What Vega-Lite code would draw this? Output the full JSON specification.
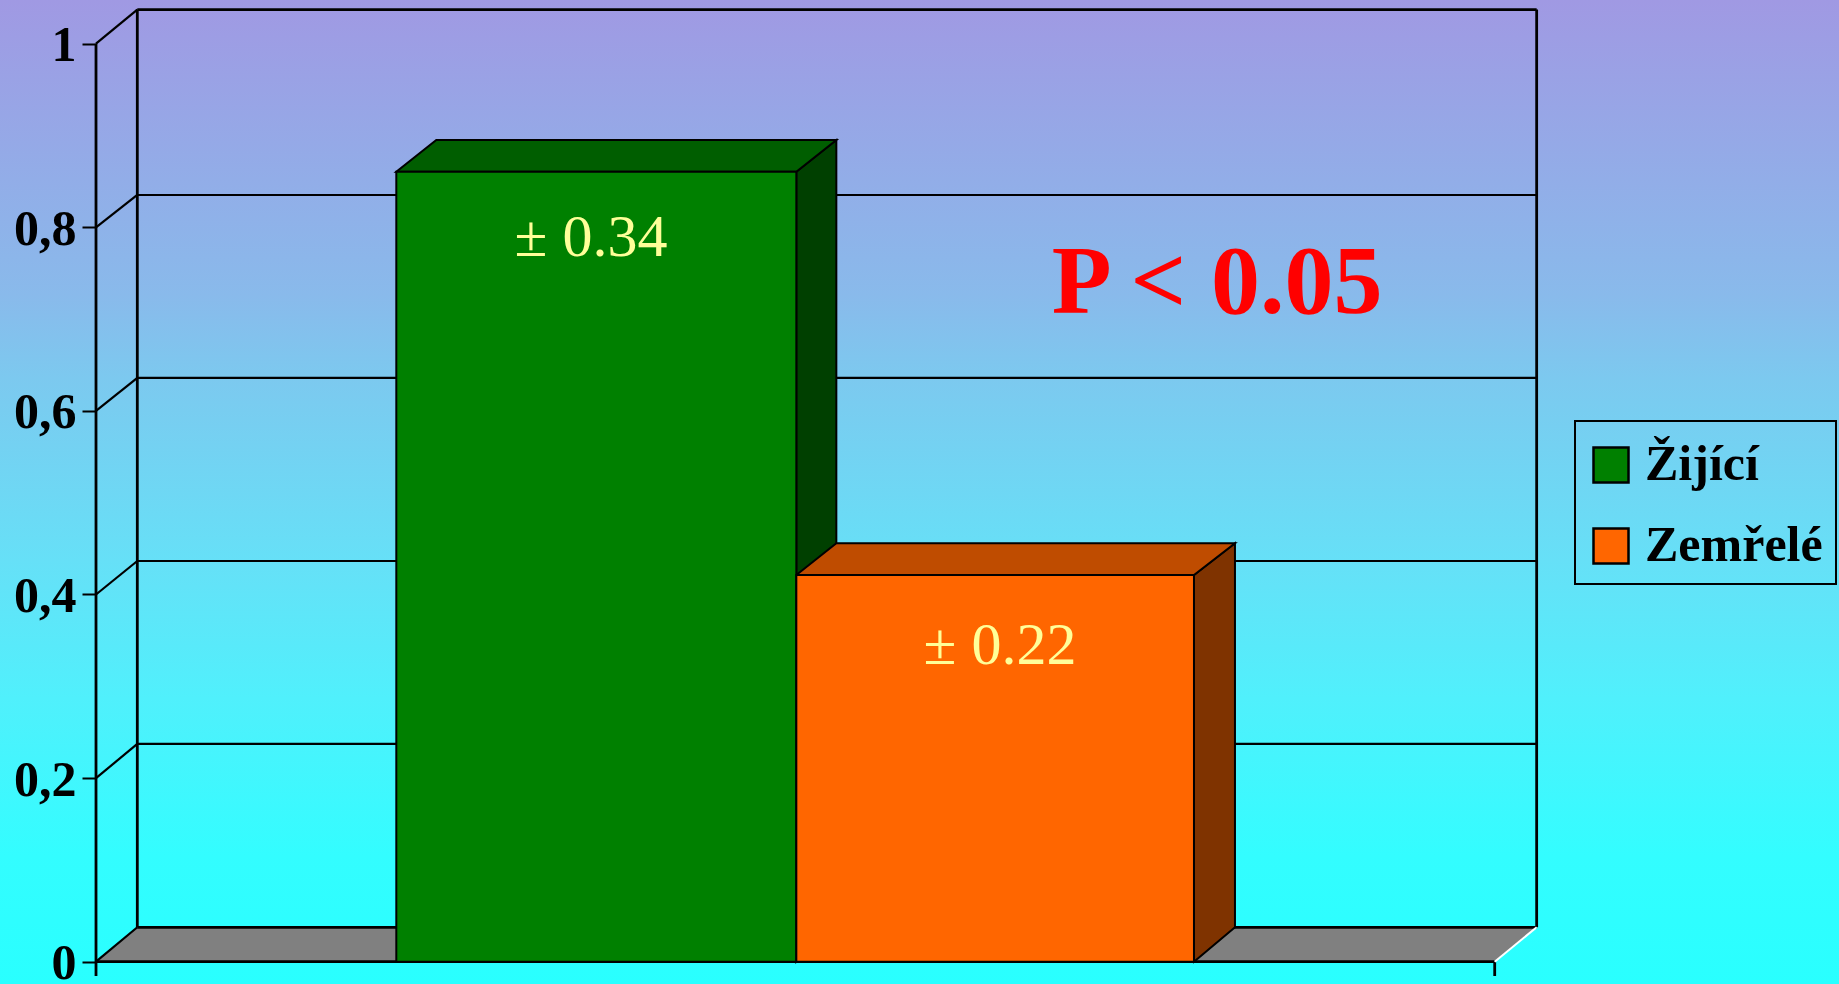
{"$schema":"https://vega.github.io/schema/vega-lite/v6.json","width":1839,"height":984,"padding":0,"autosize":"none","background":"#29FFFF","config":{"legend":{"strokeWidth":2,"strokeColor":"#000000"}},"datasets":{"bg":[{"x":-0.06864,"x2":1.24616,"y":-0.02429,"y2":1.0476}],"floor":[{"x":0,"y":0,"y2":0},{"x":0.02953,"y":0,"y2":0.0375},{"x":1,"y":0,"y2":0.0375},{"x":1.03,"y":0.0375,"y2":0.0375}],"grid":[{"x":0,"y":0.2,"x2":0.02953,"y2":0.2372},{"x":0.02953,"y":0.2372,"x2":1.03,"y2":0.2372},{"x":0,"y":0.4,"x2":0.02953,"y2":0.4365},{"x":0.02953,"y":0.4365,"x2":1.03,"y2":0.4365},{"x":0,"y":0.6,"x2":0.02953,"y2":0.6359},{"x":0.02953,"y":0.6359,"x2":1.03,"y2":0.6359},{"x":0,"y":0.8,"x2":0.02953,"y2":0.8352},{"x":0.02953,"y":0.8352,"x2":1.03,"y2":0.8352},{"x":0,"y":1,"x2":0.02953,"y2":1.0372},{"x":0,"y":0,"x2":0.02953,"y2":0.0375}],"walls":[{"x":0.02953,"y":0.0375,"x2":0.02953,"y2":1.0372},{"x":0.02953,"y":1.0372,"x2":1.03,"y2":1.0372},{"x":1.03,"y":1.0372,"x2":1.03,"y2":0.0375},{"x":0.02953,"y":0.0375,"x2":1.03,"y2":0.0375},{"x":0,"y":-0.0156,"x2":0,"y2":1},{"x":0,"y":0,"x2":1,"y2":0},{"x":1,"y":0,"x2":1,"y2":-0.0156}],"edge":[{"x":1,"y":0,"x2":1.03,"y2":0.0375}],"faces":[{"face":"gs","x":0.5007,"y":0,"y2":0.8606},{"face":"gs","x":0.5293,"y":0.0375,"y2":0.8951},{"face":"gt","x":0.2147,"y":0.8606,"y2":0.8606},{"face":"gt","x":0.2433,"y":0.8606,"y2":0.8951},{"face":"gt","x":0.5007,"y":0.8606,"y2":0.8951},{"face":"gt","x":0.5293,"y":0.8951,"y2":0.8951},{"face":"os","x":0.785,"y":0,"y2":0.4212},{"face":"os","x":0.8143,"y":0.0375,"y2":0.4558},{"face":"ot","x":0.5007,"y":0.4212,"y2":0.4212},{"face":"ot","x":0.5293,"y":0.4212,"y2":0.4558},{"face":"ot","x":0.785,"y":0.4212,"y2":0.4558},{"face":"ot","x":0.8143,"y":0.4558,"y2":0.4558}],"bars":[{"skupina":"Žijící","x":0.2147,"x2":0.5007,"y":0,"y2":0.8606},{"skupina":"Zemřelé","x":0.5007,"x2":0.785,"y":0,"y2":0.4212}],"notes":[{"label":"± 0.34","x":0.3539,"y":0.7687},{"label":"± 0.22","x":0.6463,"y":0.3243}],"pval":[{"label":"P < 0.05","x":0.8015,"y":0.7066}]},"encoding":{"x":{"field":"x","type":"quantitative","scale":{"domain":[-0.06864,1.24616],"nice":false,"zero":false},"axis":null},"y":{"field":"y","type":"quantitative","scale":{"domain":[-0.02429,1.0476],"nice":false,"zero":false},"axis":{"orient":"left","offset":-96,"title":null,"grid":false,"domain":false,"values":[0,0.2,0.4,0.6,0.8,1],"tickSize":14,"tickColor":"#000000","tickWidth":2,"labelPadding":6,"labelOffset":2,"labelFont":"Liberation Serif","labelFontWeight":"bold","labelFontSize":50,"labelColor":"#000000","labelFlush":false,"labelOverlap":false,"labelExpr":"replace(format(datum.value,'.1~f'),'.',',')","zindex":1}}},"layer":[{"data":{"name":"bg"},"mark":{"type":"rect","fill":{"gradient":"linear","x1":0,"y1":0,"x2":0,"y2":1,"stops":[{"offset":0,"color":"#A099E3"},{"offset":0.3,"color":"#89BAEB"},{"offset":0.385,"color":"#7CC9EF"},{"offset":0.57,"color":"#66E0F7"},{"offset":0.71,"color":"#50F0FC"},{"offset":0.87,"color":"#33FDFF"},{"offset":1,"color":"#29FFFF"}]}},"encoding":{"x2":{"field":"x2"},"y2":{"field":"y2"}}},{"data":{"name":"floor"},"mark":{"type":"area","color":"#808080"},"encoding":{"y2":{"field":"y2"}}},{"data":{"name":"grid"},"mark":{"type":"rule","color":"#000000","strokeWidth":2.2},"encoding":{"x2":{"field":"x2"},"y2":{"field":"y2"}}},{"data":{"name":"walls"},"mark":{"type":"rule","color":"#000000","strokeWidth":2.8},"encoding":{"x2":{"field":"x2"},"y2":{"field":"y2"}}},{"data":{"name":"edge"},"mark":{"type":"rule","color":"#FFFFFF","strokeWidth":2},"encoding":{"x2":{"field":"x2"},"y2":{"field":"y2"}}},{"data":{"name":"faces"},"transform":[{"filter":"datum.face=='gs'"}],"mark":{"type":"area","color":"#004000","stroke":"#000000","strokeWidth":2},"encoding":{"y2":{"field":"y2"}}},{"data":{"name":"faces"},"transform":[{"filter":"datum.face=='gt'"}],"mark":{"type":"area","color":"#005E00","stroke":"#000000","strokeWidth":2},"encoding":{"y2":{"field":"y2"}}},{"data":{"name":"faces"},"transform":[{"filter":"datum.face=='os'"}],"mark":{"type":"area","color":"#7F3300","stroke":"#000000","strokeWidth":2},"encoding":{"y2":{"field":"y2"}}},{"data":{"name":"faces"},"transform":[{"filter":"datum.face=='ot'"}],"mark":{"type":"area","color":"#BF4C00","stroke":"#000000","strokeWidth":2},"encoding":{"y2":{"field":"y2"}}},{"data":{"name":"bars"},"mark":{"type":"rect","stroke":"#000000","strokeWidth":2},"encoding":{"x2":{"field":"x2"},"y2":{"field":"y2"},"fill":{"field":"skupina","type":"nominal","scale":{"domain":["Žijící","Zemřelé"],"range":["#008000","#FF6600"]},"legend":{"orient":"none","legendX":1575,"legendY":421,"title":" ","titleFontSize":1,"titlePadding":5,"symbolType":"square","symbolSize":1225,"symbolStrokeColor":"#000000","symbolStrokeWidth":2.5,"symbolOpacity":1,"symbolOffset":-2,"labelFont":"Liberation Serif","labelFontWeight":"bold","labelFontSize":50,"labelColor":"#000000","labelLimit":400,"labelOffset":9,"labelBaseline":"middle","rowPadding":31,"padding":13,"strokeColor":"#000000","fillColor":null}}}},{"data":{"name":"notes"},"mark":{"type":"text","font":"Liberation Serif","fontSize":60,"color":"#FFFF99","align":"center","baseline":"alphabetic"},"encoding":{"text":{"field":"label"}}},{"data":{"name":"pval"},"mark":{"type":"text","font":"Liberation Serif","fontSize":98,"fontWeight":"bold","color":"#FF0000","align":"center","baseline":"alphabetic"},"encoding":{"text":{"field":"label"}}}]}
